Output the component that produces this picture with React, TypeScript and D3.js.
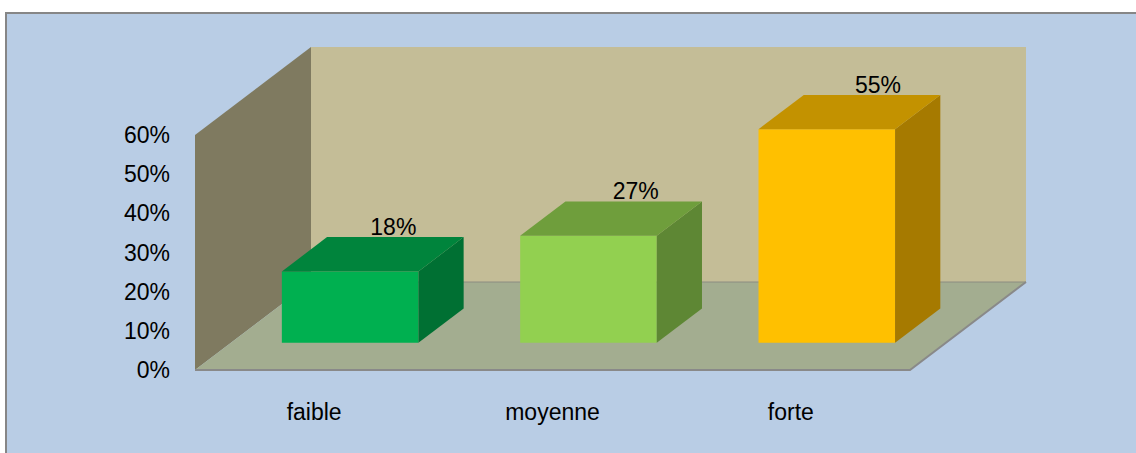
import { useEffect, useRef } from 'react';
import * as d3 from 'd3';

const categories = ['faible', 'moyenne', 'forte'];
const values = [0.182, 0.273, 0.545];
const yTicks = [0, 0.1, 0.2, 0.3, 0.4, 0.5, 0.6];
const frontColors = ['#00b050', '#92d050', '#ffc000'];
const topColors = ['#00843c', '#6f9e3c', '#c39200'];
const sideColors = ['#007033', '#5e8734', '#a67a00'];

export default function App() {
  const svgRef = useRef<SVGSVGElement>(null);

  useEffect(() => {
    document.body.style.margin = '0';
    const width = 1136;
    const height = 453;
    const font = '"Liberation Sans", Arial, sans-serif';

    const svg = d3.select(svgRef.current).attr('width', width).attr('height', height);
    svg.selectAll('*').remove();

    // chart area background + border
    svg.append('rect').attr('width', width).attr('height', height).attr('fill', '#ffffff');
    svg.append('rect')
      .attr('x', 6).attr('y', 13)
      .attr('width', width + 20).attr('height', height + 20)
      .attr('fill', '#b9cde5')
      .attr('stroke', '#868686')
      .attr('stroke-width', 2);

    // 3d projection: front plane + depth offset
    const depthX = 116;
    const depthY = -88;
    const x0 = 195;
    const x1 = 910;

    const y = d3.scaleLinear().domain([0, 0.6]).range([370, 135]);
    const x = d3.scaleBand<string>()
      .domain(categories)
      .range([x0, x1])
      .paddingInner(0.427)
      .paddingOuter(0.2135);

    const p = (px: number, py: number, d: number) => [px + d * depthX, py + d * depthY];
    const poly = (pts: number[][]) => 'M' + pts.map(q => q.join(',')).join('L') + 'Z';

    const yTop = y(0.6);
    const yBot = y(0);

    // side wall
    svg.append('path')
      .attr('d', poly([p(x0, yBot, 0), p(x0, yTop, 0), p(x0, yTop, 1), p(x0, yBot, 1)]))
      .attr('fill', '#7f7a60');

    // back wall
    svg.append('path')
      .attr('d', poly([p(x0, yBot, 1), p(x0, yTop, 1), p(x1, yTop, 1), p(x1, yBot, 1)]))
      .attr('fill', '#c4bd97');

    // floor
    svg.append('path')
      .attr('d', poly([p(x0, yBot, 0), p(x1, yBot, 0), p(x1, yBot, 1), p(x0, yBot, 1)]))
      .attr('fill', '#a3ad90');

    svg.append('path')
      .attr('d', 'M' + p(x0, yBot, 1).join(',') + 'L' + p(x1, yBot, 1).join(','))
      .attr('stroke', '#8c8c80')
      .attr('stroke-width', 1)
      .attr('fill', 'none');

    svg.append('path')
      .attr('d', 'M' + [p(x0, yBot, 0), p(x1, yBot, 0), p(x1, yBot, 1)].map(q => q.join(',')).join('L'))
      .attr('stroke', '#898989')
      .attr('stroke-width', 2)
      .attr('fill', 'none');

    // y axis labels
    svg.append('g')
      .selectAll('text')
      .data(yTicks)
      .enter()
      .append('text')
      .attr('x', 170)
      .attr('y', d => y(d) + 8)
      .attr('text-anchor', 'end')
      .style('font-family', font)
      .style('font-size', '23px')
      .attr('fill', '#000')
      .text(d => d3.format('.0%')(d));

    // category labels
    svg.append('g')
      .selectAll('text')
      .data(categories)
      .enter()
      .append('text')
      .attr('x', d => (x(d) as number) + x.bandwidth() / 2)
      .attr('y', 420)
      .attr('text-anchor', 'middle')
      .style('font-family', font)
      .style('font-size', '23px')
      .attr('fill', '#000')
      .text(d => d);

    // bars
    const d0 = 0.31;
    const d1 = 0.70;
    const bars = svg.append('g');
    categories.forEach((cat, i) => {
      const bx0 = x(cat) as number;
      const bx1 = bx0 + x.bandwidth();
      const top = y(values[i]);
      const base = yBot;

      bars.append('path')
        .attr('d', poly([p(bx0, base, d0), p(bx1, base, d0), p(bx1, top, d0), p(bx0, top, d0)]))
        .attr('fill', frontColors[i]);
      bars.append('path')
        .attr('d', poly([p(bx1, base, d0), p(bx1, base, d1), p(bx1, top, d1), p(bx1, top, d0)]))
        .attr('fill', sideColors[i]);
      bars.append('path')
        .attr('d', poly([p(bx0, top, d0), p(bx1, top, d0), p(bx1, top, d1), p(bx0, top, d1)]))
        .attr('fill', topColors[i]);

      const lp = p(bx0 + x.bandwidth() / 2, top, d1);
      bars.append('text')
        .attr('x', lp[0] - 2 + i * 4)
        .attr('y', lp[1] - 2)
        .attr('text-anchor', 'middle')
        .style('font-family', font)
        .style('font-size', '23px')
        .attr('fill', '#000')
        .text(d3.format('.0%')(values[i]));
    });
  }, []);

  return (
    <div>
      <svg ref={svgRef} style={{ display: 'block' }}></svg>
    </div>
  );
}
